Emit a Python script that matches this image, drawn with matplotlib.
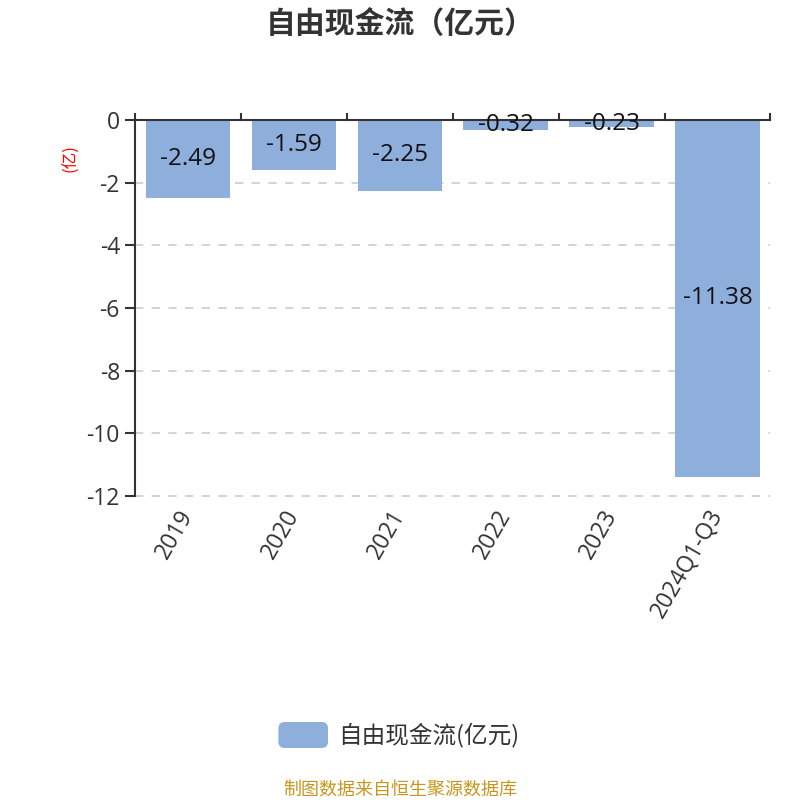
import matplotlib.pyplot as plt
from matplotlib.patches import FancyBboxPatch

plt.rcParams['font.family'] = ['Open Sans', 'Noto Sans CJK SC', 'DejaVu Sans']

years = ['2019', '2020', '2021', '2022', '2023', '2024Q1-Q3']
fcf = [-2.49, -1.59, -2.25, -0.32, -0.23, -11.38]
yticks = [0, -2, -4, -6, -8, -10, -12]

bar_color = '#8eaedb'
text_color = '#333333'
cjk = ['Noto Sans CJK SC', 'DejaVu Sans']

fig = plt.figure(figsize=(8, 8), dpi=100)
ax = fig.add_axes([0.169, 0.38, 0.794, 0.47])

x = list(range(len(years)))
bars = ax.bar(x, fcf, width=0.8, color=bar_color, zorder=2)
for b, v in zip(bars, fcf):
    ax.text(b.get_x() + b.get_width() / 2, v / 2, f'{v:.2f}', ha='center', va='center',
            fontsize=17.5, color='#111111', zorder=3)

ax.set_xlim(-0.5, len(years) - 0.5)
ax.set_ylim(-12, 0)
ax.set_yticks(yticks)
ax.set_yticklabels([str(t) for t in yticks], fontsize=16.5, color=text_color)
for t in yticks[1:]:
    ax.axhline(t, linestyle=(0, (5, 5)), color='#cccccc', linewidth=1.2, zorder=0, clip_on=False)

# category labels along bottom, tick marks on top spine
ax.set_xticks(x)
ax.set_xticklabels(years, rotation=60, ha='right', va='center', rotation_mode='anchor',
                   fontsize=16.5, color=text_color)
ax.tick_params(axis='x', length=0, pad=11)
for b in [i + 0.5 for i in x[:-1]] + [-0.5, len(years) - 0.5]:
    ax.plot([b, b], [0, 0.2], color=text_color, lw=1.5, clip_on=False, zorder=4)

ax.tick_params(axis='y', length=7, width=1.5, color=text_color, pad=4)
for s in ['right', 'bottom']:
    ax.spines[s].set_visible(False)
ax.spines['top'].set_color(text_color)
ax.spines['top'].set_linewidth(1.5)
ax.spines['left'].set_color(text_color)
ax.spines['left'].set_linewidth(1.5)

ax.set_ylabel('(亿)', color='red', fontsize=12, family=cjk)
ax.yaxis.set_label_coords(-0.088, 0.9)

fig.text(0.5, 0.97, '自由现金流（亿元）', ha='center', va='center', fontsize=21.5,
         fontweight='bold', color=text_color, family=cjk)

# legend
patch = FancyBboxPatch((0.348, 0.065), 0.062, 0.0325, boxstyle='round,pad=0,rounding_size=0.008',
                       transform=fig.transFigure, facecolor=bar_color, edgecolor='none')
fig.patches.append(patch)
fig.text(0.423, 0.081, '自由现金流(亿元)', ha='left', va='center', fontsize=17, color=text_color,
         family=cjk)

fig.text(0.5, 0.013, '制图数据来自恒生聚源数据库', ha='center', va='center', fontsize=13,
         color='#c8961e', family=cjk)

fig.savefig('out.png', dpi=100)
